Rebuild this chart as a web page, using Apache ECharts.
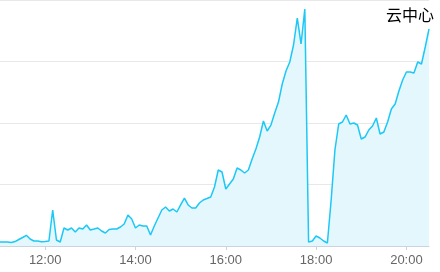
<!DOCTYPE html>
<html>
<head>
<meta charset="utf-8">
<script src="https://cdn.jsdelivr.net/npm/echarts@6/dist/echarts.min.js"></script>
<style>html,body{margin:0;padding:0;background:#fff;}#c{width:440px;height:272px;}</style>
</head>
<body>
<div id="c"></div>
<script>
const titleText = '云中心';
const times = [
'11:00','11:05','11:10','11:15','11:20','11:25','11:30','11:35','11:40','11:45','11:50','11:55',
'12:00','12:05','12:10','12:15','12:20','12:25','12:30','12:35','12:40','12:45','12:50','12:55',
'13:00','13:05','13:10','13:15','13:20','13:25','13:30','13:35','13:40','13:45','13:50','13:55',
'14:00','14:05','14:10','14:15','14:20','14:25','14:30','14:35','14:40','14:45','14:50','14:55',
'15:00','15:05','15:10','15:15','15:20','15:25','15:30','15:35','15:40','15:45','15:50','15:55',
'16:00','16:05','16:10','16:15','16:20','16:25','16:30','16:35','16:40','16:45','16:50','16:55',
'17:00','17:05','17:10','17:15','17:20','17:25','17:30','17:35','17:40','17:45','17:50','17:55',
'18:00','18:05','18:10','18:15','18:20','18:25','18:30','18:35','18:40','18:45','18:50','18:55',
'19:00','19:05','19:10','19:15','19:20','19:25','19:30','19:35','19:40','19:45','19:50','19:55',
'20:00','20:05','20:10','20:15','20:20','20:25','20:30'
];
const values = [
6.5,6.5,6.5,5.7,7.2,10.6,13.8,17.4,11.4,8.1,8.1,7.0,
7.3,8.1,58.5,9.8,6.5,29.3,26,29.3,22.8,29.3,27.6,34.1,
26,27.6,29.3,24.4,21.1,26.8,27.6,27.6,30.9,35.8,50.4,43.9,
29.3,34.1,32.5,32.5,17.9,32.5,45.5,58.5,63.4,56.9,60.2,55.3,
66.7,78,66.7,61.8,61.8,69.9,74.8,77.2,79.7,95.9,123.6,120.3,
92.7,100.8,108.9,126.8,123.6,118.7,123.6,141.5,157.7,177.2,203.3,187,
196.7,216.3,234.1,263.4,284.6,299.2,326.8,370.7,328.5,385.4,6.5,8.1,
16.3,13,8.1,4.9,74.8,156.1,198.4,201.6,213,198.4,200,196.7,
174,177.2,188.6,195.1,208.1,182.1,185.4,201.6,222.8,230.9,252,269.9,
282.9,282.9,281.3,299.2,295.9,323.6,352.8
];
const yMin = 0, yMax = 400, yInterval = 100;

const chart = echarts.init(document.getElementById('c'));
const hourLabel = (idx) => idx % 24 === 12;
chart.setOption({
  animation: false,
  title: {
    text: titleText,
    right: 1,
    top: 2,
    textStyle: { fontSize: 16, fontWeight: 'normal', color: '#000', fontFamily: '"Noto Sans CJK SC", sans-serif' }
  },
  grid: { left: 0, right: 11, top: 0, bottom: 26, containLabel: false },
  xAxis: {
    type: 'category',
    boundaryGap: false,
    data: times,
    axisLine: { lineStyle: { color: '#ccd3dc' } },
    axisTick: { interval: hourLabel, length: 4, lineStyle: { color: '#ccd3dc' } },
    axisLabel: { interval: hourLabel, color: '#666', fontSize: 13, margin: 8, fontFamily: '"Liberation Sans", sans-serif' },
    splitLine: { show: false }
  },
  yAxis: {
    type: 'value',
    min: yMin, max: yMax, interval: yInterval,
    axisLine: { show: false },
    axisTick: { show: false },
    axisLabel: { show: false },
    splitLine: { lineStyle: { color: '#e8e8e8' } }
  },
  series: [{
    type: 'line',
    data: values,
    symbol: 'none',
    smooth: false,
    lineStyle: { color: '#1cc8f6', width: 1.5 },
    itemStyle: { color: '#1cc8f6' },
    areaStyle: { color: '#e3f7fd', opacity: 1 }
  }]
});
</script>
</body>
</html>
